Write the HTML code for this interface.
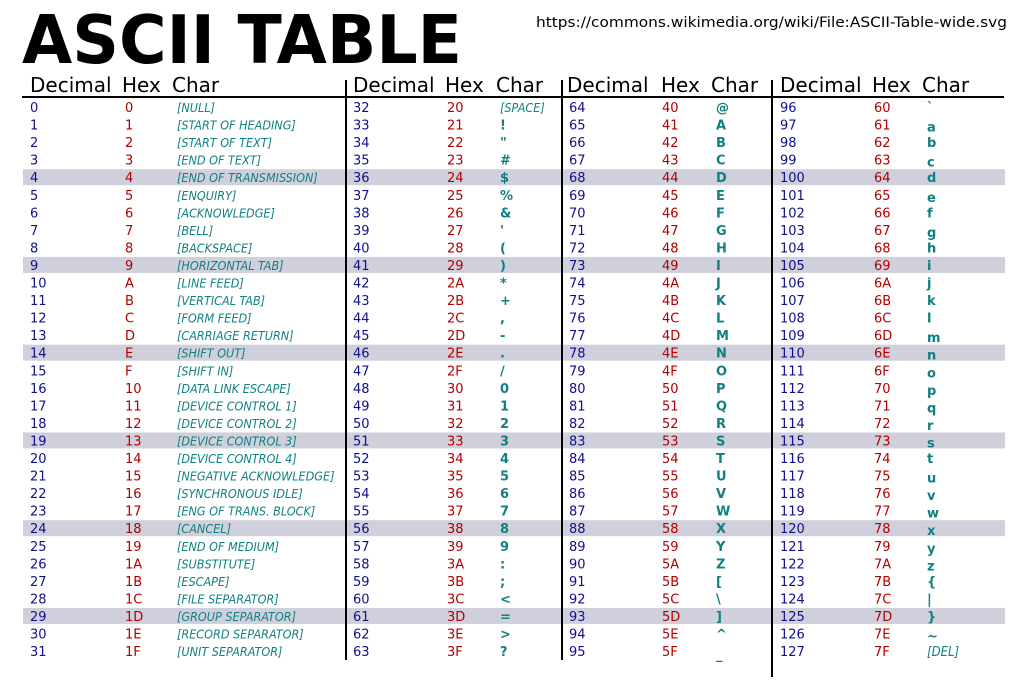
<!DOCTYPE html>
<html><head><meta charset="utf-8"><style>
html,body{margin:0;padding:0;background:#fff;}
svg{display:block;}
text{font-family:"DejaVu Sans","Liberation Sans",sans-serif;font-size:13px;}
.d{fill:#10108a;}
.h{fill:#b00000;}
.c{fill:#108080;font-weight:bold;}
.n{fill:#108080;font-style:italic;font-size:12.5px;font-family:"DejaVu Sans Condensed","DejaVu Sans",sans-serif;font-stretch:condensed;}
.hd{font-size:20px;fill:#000;}
</style></head><body>
<svg width="1024" height="681" viewBox="0 0 1024 681" xmlns="http://www.w3.org/2000/svg">
<rect width="1024" height="681" fill="#fff"/>
<text x="22" y="63" style="font-size:67px;font-weight:bold;fill:#000" textLength="440" lengthAdjust="spacingAndGlyphs">ASCII TABLE</text>
<text x="536" y="27" style="font-size:14px;fill:#000" textLength="471" lengthAdjust="spacingAndGlyphs">https://commons.wikimedia.org/wiki/File:ASCII-Table-wide.svg</text>
<g fill="#d0d0dc">
<rect x="23" y="169.2" width="982" height="16"/>
<rect x="23" y="256.95" width="982" height="16"/>
<rect x="23" y="344.7" width="982" height="16"/>
<rect x="23" y="432.45" width="982" height="16"/>
<rect x="23" y="520.2" width="982" height="16"/>
<rect x="23" y="607.95" width="982" height="16"/>
</g>
<line x1="22" y1="97" x2="1004" y2="97" stroke="#000" stroke-width="2"/>
<line x1="346" y1="80" x2="346" y2="660" stroke="#000" stroke-width="2"/>
<line x1="562" y1="80" x2="562" y2="660" stroke="#000" stroke-width="2"/>
<line x1="772" y1="80" x2="772" y2="677" stroke="#000" stroke-width="2"/>
<g class="hd">
<text x="30" y="92" class="hd">Decimal</text><text x="122" y="92" class="hd">Hex</text><text x="172" y="92" class="hd">Char</text>
<text x="353" y="92" class="hd">Decimal</text><text x="445" y="92" class="hd">Hex</text><text x="496" y="92" class="hd">Char</text>
<text x="567" y="92" class="hd">Decimal</text><text x="661" y="92" class="hd">Hex</text><text x="711" y="92" class="hd">Char</text>
<text x="780" y="92" class="hd">Decimal</text><text x="872" y="92" class="hd">Hex</text><text x="922" y="92" class="hd">Char</text>
</g>
<g transform="translate(0,112)"><text x="30" class="d">0</text><text x="125" class="h">0</text><text x="177" class="n">[NULL]</text><text x="353" class="d">32</text><text x="447" class="h">20</text><text x="500" class="n">[SPACE]</text><text x="569" class="d">64</text><text x="662" class="h">40</text><text x="716" class="c">@</text><text x="780" class="d">96</text><text x="874" class="h">60</text><text x="927" class="c">`</text></g>
<g transform="translate(0,129.55)"><text x="30" class="d">1</text><text x="125" class="h">1</text><text x="177" class="n">[START OF HEADING]</text><text x="353" class="d">33</text><text x="447" class="h">21</text><text x="500" class="c">!</text><text x="569" class="d">65</text><text x="662" class="h">41</text><text x="716" class="c">A</text><text x="780" class="d">97</text><text x="874" class="h">61</text><text x="927" class="c" dy="2">a</text></g>
<g transform="translate(0,147.1)"><text x="30" class="d">2</text><text x="125" class="h">2</text><text x="177" class="n">[START OF TEXT]</text><text x="353" class="d">34</text><text x="447" class="h">22</text><text x="500" class="c">"</text><text x="569" class="d">66</text><text x="662" class="h">42</text><text x="716" class="c">B</text><text x="780" class="d">98</text><text x="874" class="h">62</text><text x="927" class="c">b</text></g>
<g transform="translate(0,164.65)"><text x="30" class="d">3</text><text x="125" class="h">3</text><text x="177" class="n">[END OF TEXT]</text><text x="353" class="d">35</text><text x="447" class="h">23</text><text x="500" class="c">#</text><text x="569" class="d">67</text><text x="662" class="h">43</text><text x="716" class="c">C</text><text x="780" class="d">99</text><text x="874" class="h">63</text><text x="927" class="c" dy="2">c</text></g>
<g transform="translate(0,182.2)"><text x="30" class="d">4</text><text x="125" class="h">4</text><text x="177" class="n">[END OF TRANSMISSION]</text><text x="353" class="d">36</text><text x="447" class="h">24</text><text x="500" class="c">$</text><text x="569" class="d">68</text><text x="662" class="h">44</text><text x="716" class="c">D</text><text x="780" class="d">100</text><text x="874" class="h">64</text><text x="927" class="c">d</text></g>
<g transform="translate(0,199.75)"><text x="30" class="d">5</text><text x="125" class="h">5</text><text x="177" class="n">[ENQUIRY]</text><text x="353" class="d">37</text><text x="447" class="h">25</text><text x="500" class="c">%</text><text x="569" class="d">69</text><text x="662" class="h">45</text><text x="716" class="c">E</text><text x="780" class="d">101</text><text x="874" class="h">65</text><text x="927" class="c" dy="2">e</text></g>
<g transform="translate(0,217.3)"><text x="30" class="d">6</text><text x="125" class="h">6</text><text x="177" class="n">[ACKNOWLEDGE]</text><text x="353" class="d">38</text><text x="447" class="h">26</text><text x="500" class="c">&amp;</text><text x="569" class="d">70</text><text x="662" class="h">46</text><text x="716" class="c">F</text><text x="780" class="d">102</text><text x="874" class="h">66</text><text x="927" class="c">f</text></g>
<g transform="translate(0,234.85)"><text x="30" class="d">7</text><text x="125" class="h">7</text><text x="177" class="n">[BELL]</text><text x="353" class="d">39</text><text x="447" class="h">27</text><text x="500" class="c">'</text><text x="569" class="d">71</text><text x="662" class="h">47</text><text x="716" class="c">G</text><text x="780" class="d">103</text><text x="874" class="h">67</text><text x="927" class="c" dy="2">g</text></g>
<g transform="translate(0,252.4)"><text x="30" class="d">8</text><text x="125" class="h">8</text><text x="177" class="n">[BACKSPACE]</text><text x="353" class="d">40</text><text x="447" class="h">28</text><text x="500" class="c">(</text><text x="569" class="d">72</text><text x="662" class="h">48</text><text x="716" class="c">H</text><text x="780" class="d">104</text><text x="874" class="h">68</text><text x="927" class="c">h</text></g>
<g transform="translate(0,269.95)"><text x="30" class="d">9</text><text x="125" class="h">9</text><text x="177" class="n">[HORIZONTAL TAB]</text><text x="353" class="d">41</text><text x="447" class="h">29</text><text x="500" class="c">)</text><text x="569" class="d">73</text><text x="662" class="h">49</text><text x="716" class="c">I</text><text x="780" class="d">105</text><text x="874" class="h">69</text><text x="927" class="c">i</text></g>
<g transform="translate(0,287.5)"><text x="30" class="d">10</text><text x="125" class="h">A</text><text x="177" class="n">[LINE FEED]</text><text x="353" class="d">42</text><text x="447" class="h">2A</text><text x="500" class="c">*</text><text x="569" class="d">74</text><text x="662" class="h">4A</text><text x="716" class="c">J</text><text x="780" class="d">106</text><text x="874" class="h">6A</text><text x="927" class="c">j</text></g>
<g transform="translate(0,305.05)"><text x="30" class="d">11</text><text x="125" class="h">B</text><text x="177" class="n">[VERTICAL TAB]</text><text x="353" class="d">43</text><text x="447" class="h">2B</text><text x="500" class="c">+</text><text x="569" class="d">75</text><text x="662" class="h">4B</text><text x="716" class="c">K</text><text x="780" class="d">107</text><text x="874" class="h">6B</text><text x="927" class="c">k</text></g>
<g transform="translate(0,322.6)"><text x="30" class="d">12</text><text x="125" class="h">C</text><text x="177" class="n">[FORM FEED]</text><text x="353" class="d">44</text><text x="447" class="h">2C</text><text x="500" class="c">,</text><text x="569" class="d">76</text><text x="662" class="h">4C</text><text x="716" class="c">L</text><text x="780" class="d">108</text><text x="874" class="h">6C</text><text x="927" class="c">l</text></g>
<g transform="translate(0,340.15)"><text x="30" class="d">13</text><text x="125" class="h">D</text><text x="177" class="n">[CARRIAGE RETURN]</text><text x="353" class="d">45</text><text x="447" class="h">2D</text><text x="500" class="c">-</text><text x="569" class="d">77</text><text x="662" class="h">4D</text><text x="716" class="c">M</text><text x="780" class="d">109</text><text x="874" class="h">6D</text><text x="927" class="c" dy="2">m</text></g>
<g transform="translate(0,357.7)"><text x="30" class="d">14</text><text x="125" class="h">E</text><text x="177" class="n">[SHIFT OUT]</text><text x="353" class="d">46</text><text x="447" class="h">2E</text><text x="500" class="c">.</text><text x="569" class="d">78</text><text x="662" class="h">4E</text><text x="716" class="c">N</text><text x="780" class="d">110</text><text x="874" class="h">6E</text><text x="927" class="c" dy="2">n</text></g>
<g transform="translate(0,375.25)"><text x="30" class="d">15</text><text x="125" class="h">F</text><text x="177" class="n">[SHIFT IN]</text><text x="353" class="d">47</text><text x="447" class="h">2F</text><text x="500" class="c">/</text><text x="569" class="d">79</text><text x="662" class="h">4F</text><text x="716" class="c">O</text><text x="780" class="d">111</text><text x="874" class="h">6F</text><text x="927" class="c" dy="2">o</text></g>
<g transform="translate(0,392.8)"><text x="30" class="d">16</text><text x="125" class="h">10</text><text x="177" class="n">[DATA LINK ESCAPE]</text><text x="353" class="d">48</text><text x="447" class="h">30</text><text x="500" class="c">0</text><text x="569" class="d">80</text><text x="662" class="h">50</text><text x="716" class="c">P</text><text x="780" class="d">112</text><text x="874" class="h">70</text><text x="927" class="c" dy="2">p</text></g>
<g transform="translate(0,410.35)"><text x="30" class="d">17</text><text x="125" class="h">11</text><text x="177" class="n">[DEVICE CONTROL 1]</text><text x="353" class="d">49</text><text x="447" class="h">31</text><text x="500" class="c">1</text><text x="569" class="d">81</text><text x="662" class="h">51</text><text x="716" class="c">Q</text><text x="780" class="d">113</text><text x="874" class="h">71</text><text x="927" class="c" dy="2">q</text></g>
<g transform="translate(0,427.9)"><text x="30" class="d">18</text><text x="125" class="h">12</text><text x="177" class="n">[DEVICE CONTROL 2]</text><text x="353" class="d">50</text><text x="447" class="h">32</text><text x="500" class="c">2</text><text x="569" class="d">82</text><text x="662" class="h">52</text><text x="716" class="c">R</text><text x="780" class="d">114</text><text x="874" class="h">72</text><text x="927" class="c" dy="2">r</text></g>
<g transform="translate(0,445.45)"><text x="30" class="d">19</text><text x="125" class="h">13</text><text x="177" class="n">[DEVICE CONTROL 3]</text><text x="353" class="d">51</text><text x="447" class="h">33</text><text x="500" class="c">3</text><text x="569" class="d">83</text><text x="662" class="h">53</text><text x="716" class="c">S</text><text x="780" class="d">115</text><text x="874" class="h">73</text><text x="927" class="c" dy="2">s</text></g>
<g transform="translate(0,463)"><text x="30" class="d">20</text><text x="125" class="h">14</text><text x="177" class="n">[DEVICE CONTROL 4]</text><text x="353" class="d">52</text><text x="447" class="h">34</text><text x="500" class="c">4</text><text x="569" class="d">84</text><text x="662" class="h">54</text><text x="716" class="c">T</text><text x="780" class="d">116</text><text x="874" class="h">74</text><text x="927" class="c">t</text></g>
<g transform="translate(0,480.55)"><text x="30" class="d">21</text><text x="125" class="h">15</text><text x="177" class="n">[NEGATIVE ACKNOWLEDGE]</text><text x="353" class="d">53</text><text x="447" class="h">35</text><text x="500" class="c">5</text><text x="569" class="d">85</text><text x="662" class="h">55</text><text x="716" class="c">U</text><text x="780" class="d">117</text><text x="874" class="h">75</text><text x="927" class="c" dy="2">u</text></g>
<g transform="translate(0,498.1)"><text x="30" class="d">22</text><text x="125" class="h">16</text><text x="177" class="n">[SYNCHRONOUS IDLE]</text><text x="353" class="d">54</text><text x="447" class="h">36</text><text x="500" class="c">6</text><text x="569" class="d">86</text><text x="662" class="h">56</text><text x="716" class="c">V</text><text x="780" class="d">118</text><text x="874" class="h">76</text><text x="927" class="c" dy="2">v</text></g>
<g transform="translate(0,515.65)"><text x="30" class="d">23</text><text x="125" class="h">17</text><text x="177" class="n">[ENG OF TRANS. BLOCK]</text><text x="353" class="d">55</text><text x="447" class="h">37</text><text x="500" class="c">7</text><text x="569" class="d">87</text><text x="662" class="h">57</text><text x="716" class="c">W</text><text x="780" class="d">119</text><text x="874" class="h">77</text><text x="927" class="c" dy="2">w</text></g>
<g transform="translate(0,533.2)"><text x="30" class="d">24</text><text x="125" class="h">18</text><text x="177" class="n">[CANCEL]</text><text x="353" class="d">56</text><text x="447" class="h">38</text><text x="500" class="c">8</text><text x="569" class="d">88</text><text x="662" class="h">58</text><text x="716" class="c">X</text><text x="780" class="d">120</text><text x="874" class="h">78</text><text x="927" class="c" dy="2">x</text></g>
<g transform="translate(0,550.75)"><text x="30" class="d">25</text><text x="125" class="h">19</text><text x="177" class="n">[END OF MEDIUM]</text><text x="353" class="d">57</text><text x="447" class="h">39</text><text x="500" class="c">9</text><text x="569" class="d">89</text><text x="662" class="h">59</text><text x="716" class="c">Y</text><text x="780" class="d">121</text><text x="874" class="h">79</text><text x="927" class="c" dy="2">y</text></g>
<g transform="translate(0,568.3)"><text x="30" class="d">26</text><text x="125" class="h">1A</text><text x="177" class="n">[SUBSTITUTE]</text><text x="353" class="d">58</text><text x="447" class="h">3A</text><text x="500" class="c">:</text><text x="569" class="d">90</text><text x="662" class="h">5A</text><text x="716" class="c">Z</text><text x="780" class="d">122</text><text x="874" class="h">7A</text><text x="927" class="c" dy="2">z</text></g>
<g transform="translate(0,585.85)"><text x="30" class="d">27</text><text x="125" class="h">1B</text><text x="177" class="n">[ESCAPE]</text><text x="353" class="d">59</text><text x="447" class="h">3B</text><text x="500" class="c">;</text><text x="569" class="d">91</text><text x="662" class="h">5B</text><text x="716" class="c">[</text><text x="780" class="d">123</text><text x="874" class="h">7B</text><text x="927" class="c">{</text></g>
<g transform="translate(0,603.4)"><text x="30" class="d">28</text><text x="125" class="h">1C</text><text x="177" class="n">[FILE SEPARATOR]</text><text x="353" class="d">60</text><text x="447" class="h">3C</text><text x="500" class="c">&lt;</text><text x="569" class="d">92</text><text x="662" class="h">5C</text><text x="716" class="c">\</text><text x="780" class="d">124</text><text x="874" class="h">7C</text><text x="927" class="c">|</text></g>
<g transform="translate(0,620.95)"><text x="30" class="d">29</text><text x="125" class="h">1D</text><text x="177" class="n">[GROUP SEPARATOR]</text><text x="353" class="d">61</text><text x="447" class="h">3D</text><text x="500" class="c">=</text><text x="569" class="d">93</text><text x="662" class="h">5D</text><text x="716" class="c">]</text><text x="780" class="d">125</text><text x="874" class="h">7D</text><text x="927" class="c">}</text></g>
<g transform="translate(0,638.5)"><text x="30" class="d">30</text><text x="125" class="h">1E</text><text x="177" class="n">[RECORD SEPARATOR]</text><text x="353" class="d">62</text><text x="447" class="h">3E</text><text x="500" class="c">&gt;</text><text x="569" class="d">94</text><text x="662" class="h">5E</text><text x="716" class="c">^</text><text x="780" class="d">126</text><text x="874" class="h">7E</text><text x="927" class="c" dy="2">~</text></g>
<g transform="translate(0,656.05)"><text x="30" class="d">31</text><text x="125" class="h">1F</text><text x="177" class="n">[UNIT SEPARATOR]</text><text x="353" class="d">63</text><text x="447" class="h">3F</text><text x="500" class="c">?</text><text x="569" class="d">95</text><text x="662" class="h">5F</text><text x="716" class="c" dy="3">_</text><text x="780" class="d">127</text><text x="874" class="h">7F</text><text x="927" class="n" style="font-size:13px">[DEL]</text></g>
</svg>
</body></html>
